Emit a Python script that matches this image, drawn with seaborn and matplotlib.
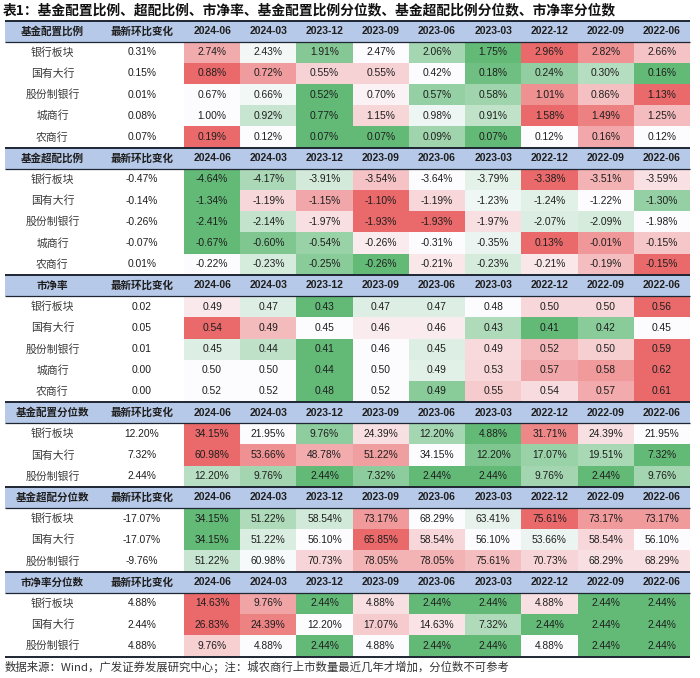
import numpy as np
import matplotlib
matplotlib.use("Agg")
import matplotlib.pyplot as plt
import seaborn as sns
from matplotlib.colors import LinearSegmentedColormap
from matplotlib.patches import Rectangle

# ---------------- data ----------------
periods = ["2024-06", "2024-03", "2023-12", "2023-09", "2023-06",
           "2023-03", "2022-12", "2022-09", "2022-06"]
banks5 = ["银行板块", "国有大行", "股份制银行", "城商行", "农商行"]
banks3 = ["银行板块", "国有大行", "股份制银行"]

alloc_ratio_chg = [0.31, 0.15, 0.01, 0.08, 0.07]
alloc_ratio = [
    [2.74, 2.43, 1.91, 2.47, 2.06, 1.75, 2.96, 2.82, 2.66],
    [0.88, 0.72, 0.55, 0.55, 0.42, 0.18, 0.24, 0.30, 0.16],
    [0.67, 0.66, 0.52, 0.70, 0.57, 0.58, 1.01, 0.86, 1.13],
    [1.00, 0.92, 0.77, 1.15, 0.98, 0.91, 1.58, 1.49, 1.25],
    [0.19, 0.12, 0.07, 0.07, 0.09, 0.07, 0.12, 0.16, 0.12],
]

over_ratio_chg = [-0.47, -0.14, -0.26, -0.07, 0.01]
over_ratio = [
    [-4.64, -4.17, -3.91, -3.54, -3.64, -3.79, -3.38, -3.51, -3.59],
    [-1.34, -1.19, -1.15, -1.10, -1.19, -1.23, -1.24, -1.22, -1.30],
    [-2.41, -2.14, -1.97, -1.93, -1.93, -1.97, -2.07, -2.09, -1.98],
    [-0.67, -0.60, -0.54, -0.26, -0.31, -0.35, 0.13, -0.01, -0.15],
    [-0.22, -0.23, -0.25, -0.26, -0.21, -0.23, -0.21, -0.19, -0.15],
]

pb_chg = [0.02, 0.05, 0.01, 0.00, 0.00]
pb = [
    [0.49, 0.47, 0.43, 0.47, 0.47, 0.48, 0.50, 0.50, 0.56],
    [0.54, 0.49, 0.45, 0.46, 0.46, 0.43, 0.41, 0.42, 0.45],
    [0.45, 0.44, 0.41, 0.46, 0.45, 0.49, 0.52, 0.50, 0.59],
    [0.50, 0.50, 0.44, 0.50, 0.49, 0.53, 0.57, 0.58, 0.62],
    [0.52, 0.52, 0.48, 0.52, 0.49, 0.55, 0.54, 0.57, 0.61],
]

alloc_pct_chg = [12.20, 7.32, 2.44]
alloc_pct = [
    [34.15, 21.95, 9.76, 24.39, 12.20, 4.88, 31.71, 24.39, 21.95],
    [60.98, 53.66, 48.78, 51.22, 34.15, 12.20, 17.07, 19.51, 7.32],
    [12.20, 9.76, 2.44, 7.32, 2.44, 2.44, 9.76, 2.44, 9.76],
]

over_pct_chg = [-17.07, -17.07, -9.76]
over_pct = [
    [34.15, 51.22, 58.54, 73.17, 68.29, 63.41, 75.61, 73.17, 73.17],
    [34.15, 51.22, 56.10, 65.85, 58.54, 56.10, 53.66, 58.54, 56.10],
    [51.22, 60.98, 70.73, 78.05, 78.05, 75.61, 70.73, 68.29, 68.29],
]

pb_pct_chg = [4.88, 2.44, 4.88]
pb_pct = [
    [14.63, 9.76, 2.44, 4.88, 2.44, 2.44, 4.88, 2.44, 2.44],
    [26.83, 24.39, 12.20, 17.07, 14.63, 7.32, 2.44, 2.44, 2.44],
    [9.76, 4.88, 2.44, 4.88, 2.44, 2.44, 4.88, 2.44, 2.44],
]

# colour-scale anchors (min, mid, max) for rows whose source scale
# also covered hidden rows; None = row's own min / median / max
alloc_pct_scale = [None, None, (2.44, 20.0, 60.98)]
over_pct_scale = [None, None, (31.0, 62.0, 94.0)]
pb_pct_scale = [None, None, (2.44, 4.88, 21.0)]

title = "表1：基金配置比例、超配比例、市净率、基金配置比例分位数、基金超配比例分位数、市净率分位数"
footer = "数据来源：Wind，广发证券发展研究中心；注：城农商行上市数量最近几年才增加，分位数不可参考"
chg_header = "最新环比变化"

blocks = [
    ("基金配置比例", banks5, alloc_ratio_chg, alloc_ratio, True, None),
    ("基金超配比例", banks5, over_ratio_chg, over_ratio, True, None),
    ("市净率", banks5, pb_chg, pb, False, None),
    ("基金配置分位数", banks3, alloc_pct_chg, alloc_pct, True, alloc_pct_scale),
    ("基金超配分位数", banks3, over_pct_chg, over_pct, True, over_pct_scale),
    ("市净率分位数", banks3, pb_pct_chg, pb_pct, True, pb_pct_scale),
]

# ---------------- style ----------------
sns.set_theme(style="white")
plt.rcParams["font.family"] = ["Liberation Sans", "Noto Sans CJK SC", "DejaVu Sans"]
CJK = ["Noto Sans CJK SC", "DejaVu Sans"]

RED, WHITE, GREEN = "#EA6A6B", "#FCFCFF", "#63BA77"
cmap = LinearSegmentedColormap.from_list("gwr", [GREEN, WHITE, RED])
HEAD_BG = "#B7C9E8"
LINE = "#1E2533"
TXT = "#1E1E1E"

W, H = 700, 678
X0, X1, X2, X3 = 5, 100, 184, 690
TOP, RH = 20.5, 21.2


def scale_row(row, anchors):
    row = np.asarray(row, float)
    if anchors is None:
        lo, mid, hi = row.min(), np.percentile(row, 50), row.max()
    else:
        lo, mid, hi = anchors
    out = []
    for v in row:
        if v <= mid:
            t = 0.5 * (v - lo) / (mid - lo) if mid > lo else 0.0
        else:
            t = 0.5 + 0.5 * (v - mid) / (hi - mid) if hi > mid else 1.0
        out.append(min(max(t, 0.0), 1.0))
    return out


fig = plt.figure(figsize=(W / 100, H / 100), dpi=100)
fig.patch.set_facecolor("white")

overlay_items = []  # drawn later on top overlay axes
r = 0
for name, rows, chg, vals, pct, scales in blocks:
    n = len(rows)
    y_head = TOP + r * RH
    overlay_items.append(("head", y_head, name))
    for i, lab in enumerate(rows):
        yc = TOP + (r + 1 + i + 0.5) * RH
        c = f"{chg[i]:.2f}%" if pct else f"{chg[i]:.2f}"
        overlay_items.append(("row", yc, lab, c))
    # heatmap for the data cells
    y_top = TOP + (r + 1) * RH
    y_bot = y_top + n * RH
    ax = fig.add_axes([X2 / W, 1 - y_bot / H, (X3 - X2) / W, n * RH / H])
    norm = np.array([scale_row(vals[i], None if scales is None else scales[i])
                     for i in range(n)])
    labels = np.array([[(f"{v:.2f}%" if pct else f"{v:.2f}") for v in row]
                       for row in vals])
    sns.heatmap(norm, ax=ax, cmap=cmap, vmin=0, vmax=1, cbar=False,
                annot=labels, fmt="", xticklabels=False, yticklabels=False,
                annot_kws=dict(size=7.4, color=TXT, family="Liberation Sans"))
    ax.set_axis_off()
    overlay_items.append(("subline", y_top))
    r += 1 + n
overlay_items.append(("line", TOP + r * RH))

ov = fig.add_axes([0, 0, 1, 1], zorder=10)
ov.set_xlim(0, W)
ov.set_ylim(H, 0)
ov.set_axis_off()

col_w = (X3 - X2) / len(periods)
for item in overlay_items:
    if item[0] == "head":
        y, name = item[1], item[2]
        ov.add_patch(Rectangle((X0, y), X3 - X0, RH, facecolor=HEAD_BG,
                               edgecolor="none", zorder=1))
        ov.plot([X0, X3], [y, y], color=LINE, lw=1.4, zorder=3,
                solid_capstyle="butt")
        yc = y + RH / 2
        ov.text((X0 + X1) / 2, yc, name, ha="center", va="center",
                fontsize=7.6, fontweight="bold", family=CJK, color=TXT)
        ov.text((X1 + X2) / 2, yc, chg_header, ha="center", va="center",
                fontsize=7.6, fontweight="bold", family=CJK, color=TXT)
        for j, p in enumerate(periods):
            ov.text(X2 + (j + 0.5) * col_w, yc, p, ha="center", va="center",
                    fontsize=7.5, fontweight="bold", color=TXT)
    elif item[0] == "row":
        yc, lab, c = item[1], item[2], item[3]
        ov.text((X0 + X1) / 2, yc, lab, ha="center", va="center",
                fontsize=7.8, family=CJK, color="#3A3A3A")
        ov.text((X1 + X2) / 2, yc, c, ha="center", va="center",
                fontsize=7.4, color=TXT)
    elif item[0] == "subline":
        y = item[1]
        ov.plot([X0, X3], [y, y], color=LINE, lw=0.9, zorder=3,
                solid_capstyle="butt")
    elif item[0] == "line":
        y = item[1]
        ov.plot([X0, X3], [y, y], color=LINE, lw=1.4, zorder=3,
                solid_capstyle="butt")

ov.text(3, 10, title, ha="left", va="center", fontsize=9.9,
        fontweight="bold", family=CJK, color="#111111")
ov.text(5, 667, footer, ha="left", va="center", fontsize=8.2,
        family=CJK, color="#333333")

fig.savefig("out.png", dpi=100, facecolor="white")
